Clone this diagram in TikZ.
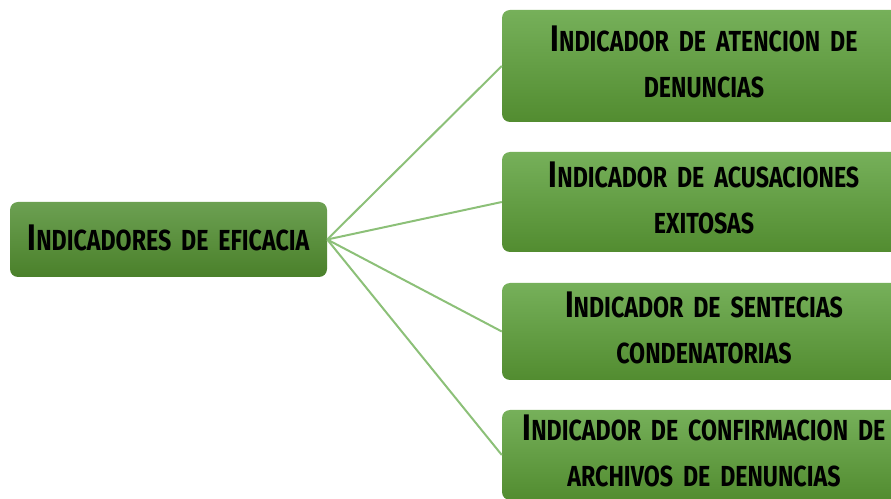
\documentclass[tikz,border=0pt]{standalone}
\usepackage{fontspec}
\newfontfamily\handfont{Fira Sans}[FakeStretch=0.8, WordSpace=1.8]
\definecolor{boxtop}{RGB}{118,176,90}
\definecolor{boxbot}{RGB}{82,140,48}
\definecolor{lefttop}{RGB}{108,160,82}
\definecolor{leftbot}{RGB}{74,128,42}
\definecolor{linkcol}{RGB}{140,192,120}
\newcommand\capI{{\fontsize{37}{46}\selectfont I}}
\tikzset{
  txt/.style={font=\handfont\bfseries\fontsize{29}{46}\selectfont, text=black, align=center},
  rightbox/.style={rounded corners=8pt, top color=boxtop, bottom color=boxbot, draw=none, inner sep=0pt, minimum width=404pt},
  leftbox/.style={rounded corners=8pt, top color=lefttop, bottom color=leftbot, draw=none, inner sep=0pt, minimum width=317pt, minimum height=75pt},
  link/.style={draw=linkcol, line width=2pt}
}
\begin{document}
\begin{tikzpicture}[x=1pt,y=1pt]
\useasboundingbox (0,0) rectangle (891,498);
\clip (0,0) rectangle (891,498);
\node[leftbox] (root) at (168.5,258.5) {};
\node[txt] (troot) at ([yshift=2pt]root.center) {\capI NDICADORES DE EFICACIA};
\node[rightbox, minimum height=112pt] (b1) at (704,432) {};
\node[rightbox, minimum height=100pt] (b2) at (704,296) {};
\node[rightbox, minimum height=97pt] (b3) at (704,166.5) {};
\node[rightbox, minimum height=90pt] (b4) at (704,43) {};
\node[txt] (t1) at ([yshift=4pt]b1.center) {\capI NDICADOR DE ATENCION DE\\DENUNCIAS};
\node[txt] (t2) at ([yshift=4pt]b2.center) {\capI NDICADOR DE ACUSACIONES\\EXITOSAS};
\node[txt] (t3) at ([yshift=4pt]b3.center) {\capI NDICADOR DE SENTECIAS\\CONDENATORIAS};
\node[txt] (t4) at ([yshift=4pt]b4.center) {\capI NDICADOR DE CONFIRMACION DE\\ARCHIVOS DE DENUNCIAS};
\foreach \b in {b1,b2,b3,b4}{
  \draw[link] (root.east) -- (\b.west);
}
\end{tikzpicture}
\end{document}
